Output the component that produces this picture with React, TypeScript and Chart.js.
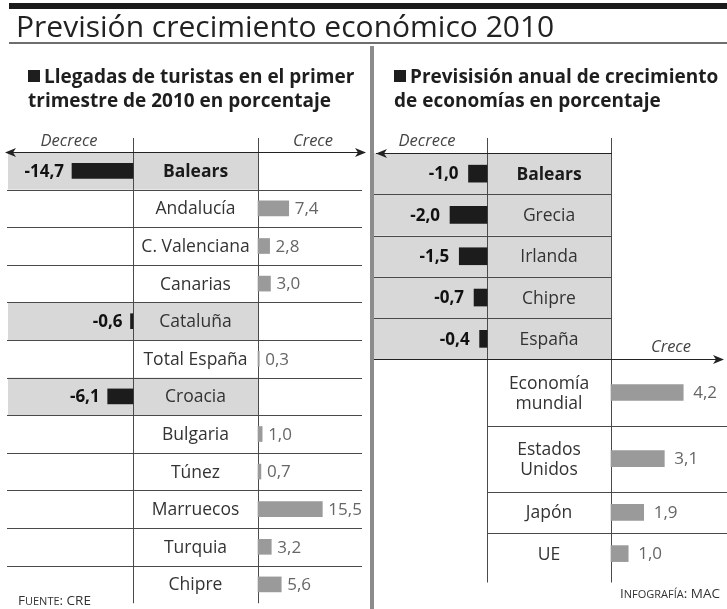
import React, { useEffect, useRef } from 'react';
import { Chart, registerables } from 'chart.js';

Chart.register(...registerables);

const W = 727;
const H = 609;
const FONT = '"Open Sans", "Noto Sans", sans-serif';

// ---- data ----
const title = 'Previsión crecimiento económico 2010';
const leftSubtitle = ['Llegadas de turistas en el primer', 'trimestre de 2010 en porcentaje'];
const rightSubtitle = ['Previsisión anual de crecimiento', 'de economías en porcentaje'];
const touristCategories = [
  'Balears', 'Andalucía', 'C. Valenciana', 'Canarias', 'Cataluña', 'Total España',
  'Croacia', 'Bulgaria', 'Túnez', 'Marruecos', 'Turquia', 'Chipre',
];
const touristValues = [-14.7, 7.4, 2.8, 3.0, -0.6, 0.3, -6.1, 1.0, 0.7, 15.5, 3.2, 5.6];
const growthCategories = [
  'Balears', 'Grecia', 'Irlanda', 'Chipre', 'España',
  'Economía\nmundial', 'Estados\nUnidos', 'Japón', 'UE',
];
const growthValues = [-1.0, -2.0, -1.5, -0.7, -0.4, 4.2, 3.1, 1.9, 1.0];
const boldCategories = ['Balears'];
const decreaseLabel = 'Decrece';
const increaseLabel = 'Crece';
const sourceLabel = 'Fuente: CRE';
const creditLabel = 'Infografía: MAC';

// ---- layout ----
type Row = { top: number; center: number; bottom: number };
function rowLayout(cats: string[]): Row[] {
  let top = 0;
  return cats.map((c) => {
    const h = c.split('\n').length > 1 ? 1.6 : 1;
    const r = { top, center: top + h / 2, bottom: top + h };
    top += h;
    return r;
  });
}
const leftRows = rowLayout(touristCategories);
const rightRows = rowLayout(growthCategories);

const L = { top: 152, unit: 37.6, zeroNeg: 133, zeroPos: 258, kNeg: 4.15, kPos: 4.15 };
const R = { top: 153, unit: 41.3, zeroNeg: 487, zeroPos: 611, kNeg: 18.5, kPos: 17.2 };

function xRange(zero: number, k: number) {
  return { min: -zero / k, max: (W - zero) / k };
}
function yRange(top: number, unit: number) {
  return { min: -top / unit, max: (H - top) / unit };
}

const fmt = (v: number) => v.toFixed(1).replace('.', ',');

function arrow(ctx: CanvasRenderingContext2D, x: number, y: number, dir: number) {
  ctx.beginPath();
  ctx.moveTo(x, y);
  ctx.lineTo(x - dir * 11, y - 4.5);
  ctx.lineTo(x - dir * 8, y);
  ctx.lineTo(x - dir * 11, y + 4.5);
  ctx.closePath();
  ctx.fill();
}

function hline(ctx: CanvasRenderingContext2D, x1: number, x2: number, y: number) {
  const yy = Math.round(y) + 0.5;
  ctx.beginPath();
  ctx.moveTo(x1, yy);
  ctx.lineTo(x2, yy);
  ctx.stroke();
}
function vline(ctx: CanvasRenderingContext2D, x: number, y1: number, y2: number) {
  const xx = Math.round(x) + 0.5;
  ctx.beginPath();
  ctx.moveTo(xx, y1);
  ctx.lineTo(xx, y2);
  ctx.stroke();
}

function smallCaps(
  ctx: CanvasRenderingContext2D, text: string, x: number, y: number,
  big: number, small: number, align: 'left' | 'right', color: string,
) {
  const runs: { t: string; s: number }[] = [];
  for (const ch of text) {
    const isLower = ch !== ch.toUpperCase();
    const s = isLower ? small : big;
    const t = ch.toUpperCase();
    if (runs.length && runs[runs.length - 1].s === s) runs[runs.length - 1].t += t;
    else runs.push({ t, s });
  }
  ctx.fillStyle = color;
  ctx.textBaseline = 'alphabetic';
  ctx.textAlign = 'left';
  let total = 0;
  for (const r of runs) {
    ctx.font = `${r.s}px ${FONT}`;
    total += ctx.measureText(r.t).width;
  }
  let cx = align === 'left' ? x : x - total;
  for (const r of runs) {
    ctx.font = `${r.s}px ${FONT}`;
    ctx.fillText(r.t, cx, y);
    cx += ctx.measureText(r.t).width;
  }
}

const decorPlugin = {
  id: 'decor',
  beforeDatasetsDraw(chart: any) {
    const ctx: CanvasRenderingContext2D = chart.ctx;
    const yL = chart.scales.yL;
    const yR = chart.scales.yR;
    ctx.save();
    // shaded rows
    ctx.fillStyle = '#d8d8d8';
    touristValues.forEach((v, i) => {
      if (v < 0) {
        const t = yL.getPixelForValue(leftRows[i].top);
        const b = yL.getPixelForValue(leftRows[i].bottom);
        ctx.fillRect(8, t, L.zeroPos - 8, b - t);
      }
    });
    growthValues.forEach((v, i) => {
      if (v < 0) {
        const t = yR.getPixelForValue(rightRows[i].top);
        const b = yR.getPixelForValue(rightRows[i].bottom);
        ctx.fillRect(374, t, R.zeroPos - 374, b - t);
      }
    });

    // top decorations
    ctx.fillStyle = '#1a1a1a';
    ctx.fillRect(9, 3, W - 9, 6);
    ctx.fillStyle = '#6e6e6e';
    ctx.fillRect(9, 42, W - 9, 2);
    ctx.fillStyle = '#8c8c8c';
    ctx.fillRect(370, 46, 4, H - 46);

    // grid lines
    ctx.strokeStyle = '#4a4a4a';
    ctx.lineWidth = 1;
    const lTop = yL.getPixelForValue(leftRows[0].top);
    const lBottom = yL.getPixelForValue(leftRows[leftRows.length - 1].bottom);
    vline(ctx, L.zeroNeg, 138, Math.min(lBottom, H));
    vline(ctx, L.zeroPos, 138, Math.min(lBottom, H));
    leftRows.forEach((r, i) => {
      if (i === 0) return;
      hline(ctx, 7, 362, yL.getPixelForValue(r.top));
    });

    const rTop = yR.getPixelForValue(rightRows[0].top);
    const rBottom = yR.getPixelForValue(rightRows[rightRows.length - 1].bottom + 0.2);
    vline(ctx, R.zeroNeg, 138, rBottom);
    vline(ctx, R.zeroPos, 138, rBottom);
    rightRows.forEach((r, i) => {
      if (i === 0) return;
      const prevNeg = growthValues[i - 1] < 0;
      const curNeg = growthValues[i] < 0;
      const y = yR.getPixelForValue(r.top);
      if (prevNeg && curNeg) hline(ctx, 374, R.zeroPos + 1, y);
      else if (!prevNeg && !curNeg) hline(ctx, R.zeroNeg, W, y);
    });

    // arrows
    ctx.strokeStyle = '#222';
    ctx.fillStyle = '#222';
    hline(ctx, 6, 365, lTop);
    arrow(ctx, 5, Math.round(lTop) + 0.5, -1);
    arrow(ctx, 366, Math.round(lTop) + 0.5, 1);
    hline(ctx, 376, R.zeroPos + 1, rTop);
    arrow(ctx, 376, Math.round(rTop) + 0.5, -1);
    const firstPos = growthValues.findIndex((v) => v >= 0);
    const crossY = yR.getPixelForValue(rightRows[firstPos].top);
    hline(ctx, 374, 722, crossY);
    arrow(ctx, 724, Math.round(crossY) + 0.5, 1);
    ctx.restore();
  },
  afterDatasetsDraw(chart: any) {
    const ctx: CanvasRenderingContext2D = chart.ctx;
    const yL = chart.scales.yL;
    const yR = chart.scales.yR;
    ctx.save();

    // title
    ctx.fillStyle = '#222';
    ctx.textAlign = 'left';
    ctx.textBaseline = 'alphabetic';
    ctx.font = `30px ${FONT}`;
    ctx.fillText(title, 16, 37);

    // subtitles
    const sub = (lines: string[], x: number) => {
      ctx.fillStyle = '#1e1e1e';
      ctx.fillRect(x, 70, 12, 12);
      ctx.font = `bold 19px ${FONT}`;
      ctx.fillText(lines[0], x + 16, 83);
      ctx.fillText(lines[1], x, 107);
    };
    sub(leftSubtitle, 28);
    sub(rightSubtitle, 394);

    // direction labels
    ctx.font = `italic 16.5px ${FONT}`;
    ctx.fillStyle = '#444';
    ctx.textAlign = 'center';
    ctx.fillText(decreaseLabel, 69, 146);
    ctx.fillText(increaseLabel, 313, 146);
    ctx.fillText(decreaseLabel, 427, 146);
    const firstPos = growthValues.findIndex((v) => v >= 0);
    const crossY = yR.getPixelForValue(rightRows[firstPos].top);
    ctx.fillText(increaseLabel, 671, crossY - 8);

    // category labels
    const drawCats = (cats: string[], rows: Row[], scale: any, cx: number) => {
      ctx.textAlign = 'center';
      ctx.textBaseline = 'middle';
      cats.forEach((c, i) => {
        const bold = boldCategories.includes(c);
        ctx.font = `${bold ? 'bold ' : ''}17.5px ${FONT}`;
        ctx.fillStyle = bold ? '#1a1a1a' : '#333';
        const lines = c.split('\n');
        const y = scale.getPixelForValue(rows[i].center);
        lines.forEach((ln, j) => {
          ctx.fillText(ln, cx, y + (j - (lines.length - 1) / 2) * 20 + 1);
        });
      });
    };
    drawCats(touristCategories, leftRows, yL, (L.zeroNeg + L.zeroPos) / 2);
    drawCats(growthCategories, rightRows, yR, (R.zeroNeg + R.zeroPos) / 2);

    // value labels
    chart.data.datasets.forEach((ds: any, di: number) => {
      const meta = chart.getDatasetMeta(di);
      const neg = ds.sign < 0;
      const gap = ds.panel === 'L' ? (neg ? 8 : 6) : 10;
      meta.data.forEach((el: any, j: number) => {
        const v = ds.data[j].x;
        ctx.textBaseline = 'middle';
        if (neg) {
          ctx.font = `bold 17px ${FONT}`;
          ctx.fillStyle = '#111';
          ctx.textAlign = 'right';
          ctx.fillText(fmt(v), el.x - gap, el.y + 1);
        } else {
          ctx.font = `17px ${FONT}`;
          ctx.fillStyle = '#666';
          ctx.textAlign = 'left';
          ctx.fillText(fmt(v), el.x + gap, el.y + 1);
        }
      });
    });

    // footer
    smallCaps(ctx, sourceLabel, 18, 605, 13.5, 11, 'left', '#333');
    smallCaps(ctx, creditLabel, 720, 598, 13.5, 11, 'right', '#333');
    ctx.restore();
  },
};

export default function App() {
  const ref = useRef<HTMLCanvasElement | null>(null);
  useEffect(() => {
    if (!ref.current) return;
    const mk = (vals: number[], rows: Row[], sign: number) =>
      vals
        .map((v, i) => ({ x: v, y: rows[i].center }))
        .filter((p) => (sign < 0 ? p.x < 0 : p.x >= 0));
    const yBase = { type: 'linear', display: false, reverse: true, offset: false, bounds: 'data', grace: 0 };
    const xBase = { type: 'linear', display: false, offset: false, bounds: 'data', grace: 0 };
    const chart = new Chart(ref.current, {
      type: 'bar',
      data: {
        datasets: [
          {
            label: 'turistas-', data: mk(touristValues, leftRows, -1), xAxisID: 'xLN', yAxisID: 'yL',
            backgroundColor: '#1c1c1c', barThickness: 15, grouped: false, sign: -1, panel: 'L',
          } as any,
          {
            label: 'turistas+', data: mk(touristValues, leftRows, 1), xAxisID: 'xLP', yAxisID: 'yL',
            backgroundColor: '#9a9a9a', barThickness: 15, grouped: false, sign: 1, panel: 'L',
          } as any,
          {
            label: 'economia-', data: mk(growthValues, rightRows, -1), xAxisID: 'xRN', yAxisID: 'yR',
            backgroundColor: '#1c1c1c', barThickness: 17, grouped: false, sign: -1, panel: 'R',
          } as any,
          {
            label: 'economia+', data: mk(growthValues, rightRows, 1), xAxisID: 'xRP', yAxisID: 'yR',
            backgroundColor: '#9a9a9a', barThickness: 16, grouped: false, sign: 1, panel: 'R',
          } as any,
        ],
      },
      options: {
        indexAxis: 'y',
        animation: false,
        responsive: false,
        events: [],
        layout: { padding: 0 },
        plugins: { legend: { display: false }, tooltip: { enabled: false }, title: { display: false } },
        scales: {
          xLN: { ...xBase, ...xRange(L.zeroNeg, L.kNeg) },
          xLP: { ...xBase, ...xRange(L.zeroPos, L.kPos) },
          xRN: { ...xBase, ...xRange(R.zeroNeg, R.kNeg) },
          xRP: { ...xBase, ...xRange(R.zeroPos, R.kPos) },
          yL: { ...yBase, ...yRange(L.top, L.unit) },
          yR: { ...yBase, ...yRange(R.top, R.unit) },
        } as any,
      },
      plugins: [decorPlugin],
    });
    return () => chart.destroy();
  }, []);
  return (
    <div style={{ position: 'fixed', left: 0, top: 0, width: W, height: H, background: '#fff' }}>
      <canvas ref={ref} width={W} height={H} style={{ display: 'block' }} />
    </div>
  );
}
